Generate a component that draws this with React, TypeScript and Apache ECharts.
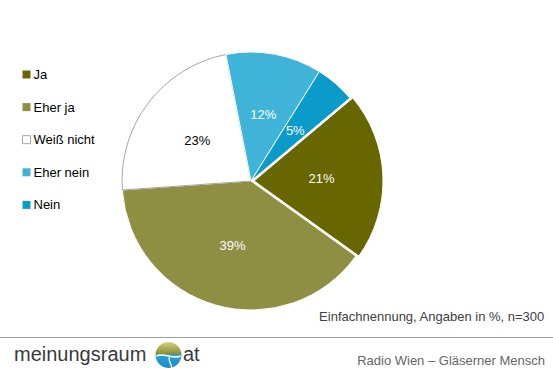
import React, { useEffect, useRef } from "react";
import * as echarts from "echarts";

const categories = ["Ja", "Eher ja", "Weiß nicht", "Eher nein", "Nein"];
const values = [21, 39, 23, 12, 5];
const colors = ["#676600", "#8f8f43", "#ffffff", "#40b3d9", "#0b9bcb"];
const labelColors = ["#ffffff", "#ffffff", "#000000", "#ffffff", "#ffffff"];
const noteText = "Einfachnennung, Angaben in %, n=300";
const footerText = "Radio Wien – Gläserner Mensch";
const logoText = "meinungsraum";
const logoSuffix = "at";

const FONT = "Liberation Sans, Arial, sans-serif";

export default function App() {
  const ref = useRef<HTMLDivElement>(null);
  useEffect(() => {
    document.body.style.margin = "0";
    const chart = echarts.init(ref.current!, null, { renderer: "svg" });
    const data = categories.map((name, i) => ({
      name,
      value: values[i],
      selected: i === 0,
      itemStyle:
        name === "Weiß nicht"
          ? { color: colors[i], borderColor: "#a6a6a6", borderWidth: 1 }
          : { color: colors[i], borderColor: "#ffffff", borderWidth: 1 },
      label: { color: labelColors[i] },
    }));
    const legendData = categories.map((name, i) => ({
      name,
      itemStyle:
        name === "Weiß nicht"
          ? { color: "#ffffff", borderColor: "#a6a6a6", borderWidth: 1 }
          : { color: colors[i], borderWidth: 0 },
    }));
    chart.setOption({
      animation: false,
      backgroundColor: "#ffffff",
      legend: {
        orient: "vertical",
        left: 17,
        top: 63,
        itemWidth: 8,
        itemHeight: 8,
        itemGap: 19.6,
        icon: "rect",
        selectedMode: false,
        textStyle: { fontSize: 13, color: "#000", fontFamily: FONT, padding: [0, 0, 0, -2] },
        data: legendData,
      },
      series: [
        {
          type: "pie",
          center: [251, 181],
          radius: 129,
          startAngle: 40,
          clockwise: true,
          selectedMode: "single",
          selectedOffset: 3,
          emphasis: { disabled: true },
          label: {
            show: true,
            position: "inside",
            formatter: "{c}%",
            fontSize: 13,
            fontFamily: FONT,
          },
          labelLine: { show: false },
          data,
        },
      ],
      graphic: [
        {
          type: "text",
          right: 8,
          top: 310,
          style: { text: noteText, fontSize: 13, fill: "#404040", fontFamily: FONT },
        },
        {
          type: "line",
          shape: { x1: 0, y1: 337.5, x2: 553, y2: 337.5 },
          style: { stroke: "#a0a0a0", lineWidth: 1 },
        },
        {
          type: "text",
          right: 8,
          top: 354,
          style: { text: footerText, fontSize: 13, fill: "#666666", fontFamily: FONT },
        },
        {
          type: "text",
          left: 14,
          top: 344,
          style: { text: logoText, fontSize: 20, fill: "#3a3a3a", fontFamily: FONT },
        },
        {
          type: "group",
          left: 154,
          top: 342,
          children: [
            {
              type: "circle",
              shape: { cx: 13, cy: 13, r: 13 },
              style: {
                fill: new echarts.graphic.LinearGradient(0, 0, 0, 1, [
                  { offset: 0, color: "#d2d28a" },
                  { offset: 0.45, color: "#8c8c32" },
                  { offset: 0.5, color: "#2aa0d8" },
                  { offset: 1, color: "#1a8cc8" },
                ]),
              },
            },
            {
              type: "bezierCurve",
              shape: { x1: 1, y1: 14, x2: 25, y2: 14, cpx1: 8, cpy1: 10, cpx2: 18, cpy2: 18 },
              style: { stroke: "#ffffff", lineWidth: 1.5, fill: "none" },
            },
            {
              type: "bezierCurve",
              shape: { x1: 14, y1: 15, x2: 16, y2: 26, cpx1: 12, cpy1: 20, cpx2: 17, cpy2: 22 },
              style: { stroke: "#ffffff", lineWidth: 1.2, fill: "none" },
            },
          ],
        },
        {
          type: "text",
          left: 183,
          top: 344,
          style: { text: logoSuffix, fontSize: 20, fill: "#3a3a3a", fontFamily: FONT },
        },
      ],
    });
    return () => chart.dispose();
  }, []);
  return <div ref={ref} style={{ width: 553, height: 373 }} />;
}
